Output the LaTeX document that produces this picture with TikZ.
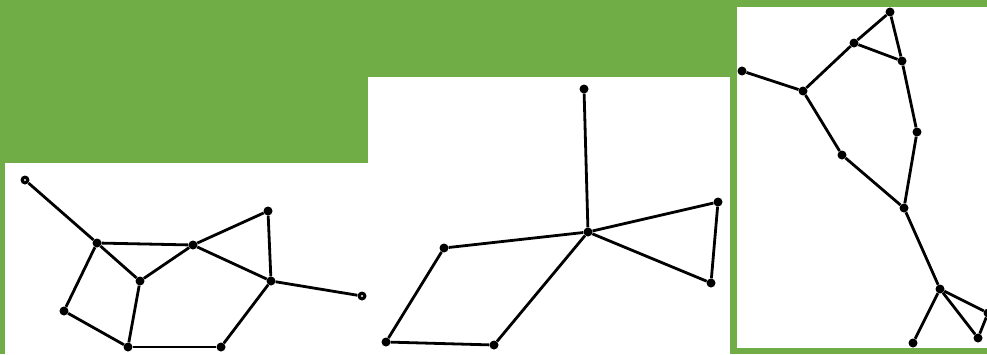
\documentclass[tikz,border=0pt]{standalone}
\definecolor{bggreen}{RGB}{112,173,71}
\begin{document}
\begin{tikzpicture}[x=1pt,y=-1pt,
  dot/.style={circle,fill=black,inner sep=0pt,minimum size=9pt},
  ringdot/.style={circle,fill=black,inner sep=0pt,minimum size=9pt,
    path picture={\fill[white] (path picture bounding box.center) circle (1.1pt);}},
  edge/.style={line width=2.8pt,black}]
\useasboundingbox (0,0) rectangle (987,354);
\begin{scope}
\clip (0,0) rectangle (987,354);
\fill[bggreen] (0,0) rectangle (987,354);
\fill[white] (5,163) rectangle (368,354);
\fill[white] (368,77) rectangle (730,354);
\fill[white] (737,7) rectangle (990,348);
% panel 1
\node[ringdot] (a1) at (25,180) {};
\node[dot] (a2) at (97,243) {};
\node[dot] (a3) at (193,245) {};
\node[dot] (a4) at (268,211) {};
\node[dot] (a5) at (140,281) {};
\node[dot] (a6) at (271,281) {};
\node[ringdot] (a7) at (362,296) {};
\node[dot] (a8) at (64,311) {};
\node[dot] (a9) at (128,347) {};
\node[dot] (a10) at (221,347) {};
\foreach \u/\v in {a1/a2,a2/a3,a2/a5,a2/a8,a3/a5,a3/a4,a3/a6,a4/a6,a6/a7,a6/a10,a5/a9,a8/a9,a9/a10}
  \draw[edge] (\u) -- (\v);
% panel 2
\node[dot] (b1) at (584,89) {};
\node[dot] (b2) at (588,232) {};
\node[dot] (b3) at (718,202) {};
\node[dot] (b4) at (711,283) {};
\node[dot] (b5) at (444,248) {};
\node[dot] (b6) at (386,342) {};
\node[dot] (b7) at (494,345) {};
\foreach \u/\v in {b1/b2,b2/b3,b3/b4,b4/b2,b2/b5,b5/b6,b6/b7,b7/b2}
  \draw[edge] (\u) -- (\v);
% panel 3
\node[dot] (c1) at (890,12) {};
\node[dot] (c2) at (854,43) {};
\node[dot] (c3) at (902,61) {};
\node[dot] (c4) at (742,71) {};
\node[dot] (c5) at (803,91) {};
\node[dot] (c6) at (917,132) {};
\node[dot] (c7) at (842,155) {};
\node[dot] (c8) at (904,208) {};
\node[dot] (c9) at (940,289) {};
\node[dot] (c10) at (988,313) {};
\node[dot] (c11) at (978,338) {};
\node[dot] (c12) at (913,343) {};
\foreach \u/\v in {c1/c2,c1/c3,c2/c3,c2/c5,c4/c5,c5/c7,c7/c8,c3/c6,c6/c8,c8/c9,c9/c12,c9/c11,c9/c10,c10/c11}
  \draw[edge] (\u) -- (\v);
\end{scope}
\end{tikzpicture}
\end{document}
